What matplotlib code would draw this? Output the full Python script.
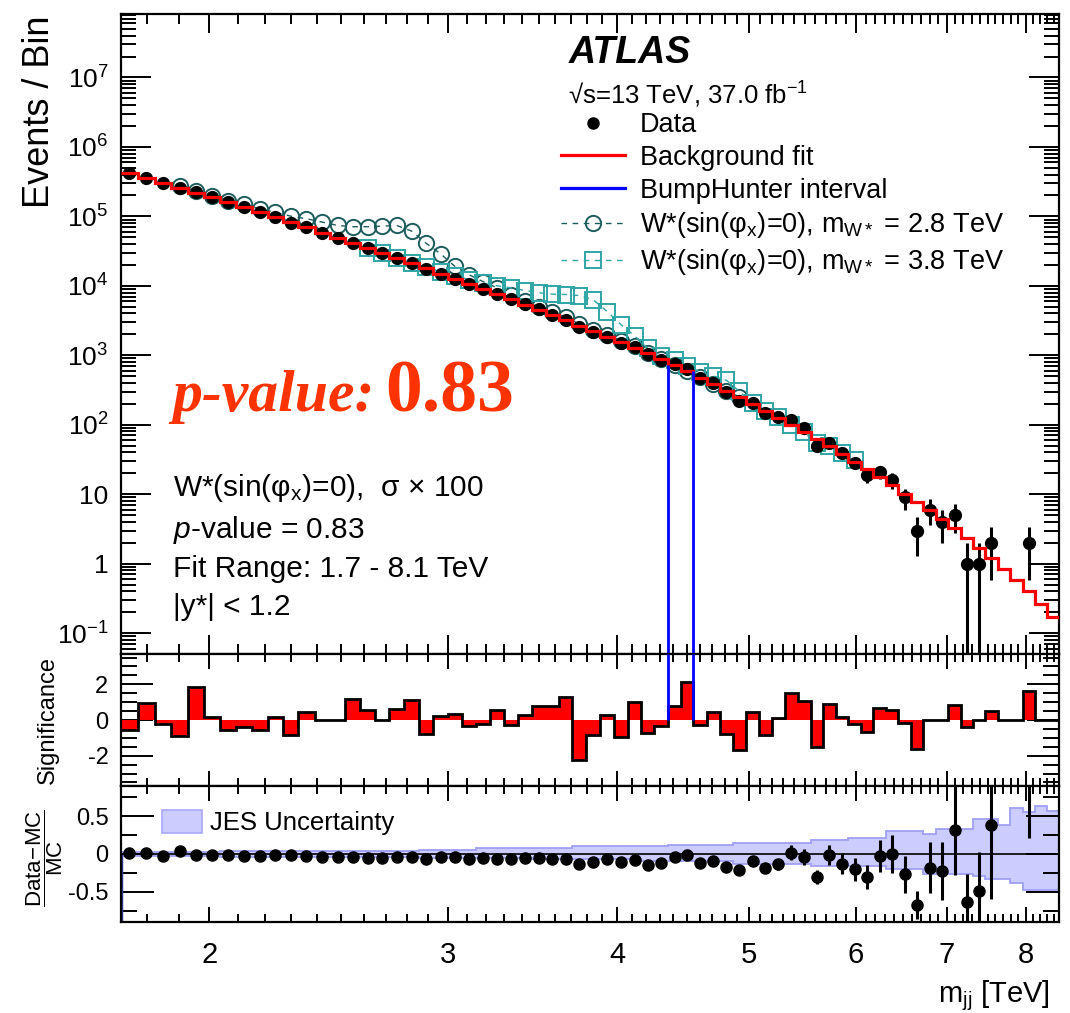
import numpy as np
import matplotlib
matplotlib.use("Agg")
import matplotlib.pyplot as plt
from matplotlib.lines import Line2D
from matplotlib.patches import Patch
from matplotlib.ticker import FixedLocator, FixedFormatter, NullFormatter

plt.rcParams['font.family'] = ['Liberation Sans', 'DejaVu Sans']
plt.rcParams['mathtext.fontset'] = 'custom'
plt.rcParams['mathtext.rm'] = 'Liberation Sans'
plt.rcParams['mathtext.it'] = 'Liberation Sans:italic'
plt.rcParams['mathtext.bf'] = 'Liberation Sans:bold'
plt.rcParams['axes.unicode_minus'] = False

# ---------------- data ----------------
bin_edges = [1.722, 1.772, 1.823, 1.875, 1.929, 1.984, 2.038, 2.093, 2.150, 2.210,
             2.267, 2.327, 2.392, 2.456, 2.519, 2.585, 2.651, 2.715, 2.786, 2.857,
             2.927, 3.000, 3.071, 3.147, 3.223, 3.302, 3.381, 3.463, 3.542, 3.623,
             3.706, 3.792, 3.885, 3.980, 4.072, 4.165, 4.260, 4.358, 4.458, 4.551,
             4.656, 4.763, 4.866, 4.977, 5.088, 5.199, 5.318, 5.434, 5.555, 5.669,
             5.796, 5.921, 6.051, 6.178, 6.313, 6.446, 6.587, 6.726, 6.869, 7.017,
             7.167, 7.322, 7.469, 7.631, 7.792, 7.962, 8.131, 8.298, 8.468]

background_fit = [421700, 358900, 305500, 259400, 220300, 187100, 158900, 134600, 114000, 96600,
                  81800, 69180, 58480, 49430, 41780, 35240, 29720, 25060, 21130, 17780,
                  15000, 12680, 10700, 9028, 7603, 6397, 5377, 4513, 3784, 3170,
                  2652, 2216, 1849, 1542, 1284, 1063, 876, 719, 587, 477,
                  386, 310, 248, 199, 159, 127, 100.5, 79.3, 62.2, 48.6,
                  38.0, 29.5, 22.8, 17.5, 13.4, 10.2, 7.76, 5.86, 4.39, 3.25,
                  2.33, 1.66, 1.20, 0.84, 0.59, 0.40, 0.26, 0.17]

data_counts = [421350, 359460, 305370, 258950, 221160, 187180, 158680, 134450, 113820, 96650,
               81560, 69290, 58480, 49430, 42020, 35350, 29720, 25160, 21300, 17680,
               15020, 12720, 10670, 9007, 7652, 6375, 5397, 4567, 3831, 3241,
               2537, 2176, 1861, 1504, 1319, 1039, 867, 739, 639, 471,
               394, 296, 222, 206, 148, 128, 116, 89, 50, 55,
               39, 28, 19, 21, 16, 9, 3, 6, 4, 5,
               1, 1, 2, 0, 0, 2, 0, 0]

significance = [-0.54, 0.93, -0.24, -0.88, 1.83, 0.19, -0.56, -0.41, -0.54, 0.15,
                -0.84, 0.43, 0.0, 0.0, 1.17, 0.56, 0.0, 0.61, 1.14, -0.78,
                0.20, 0.34, -0.32, -0.22, 0.56, -0.28, 0.28, 0.80, 0.76, 1.27,
                -2.23, -0.84, 0.28, -0.97, 0.99, -0.73, -0.32, 0.76, 2.14, -0.28,
                0.43, -0.78, -1.68, 0.47, -0.84, 0.11, 1.51, 1.08, -1.53, 0.89,
                0.19, -0.22, -0.69, 0.67, 0.58, -0.17, -1.62, 0.0, 0.0, 0.84,
                -0.41, 0.0, 0.48, 0.0, 0.0, 1.62, 0.0, 0.0]

ratio_values = [0.009, 0.009, -0.026, 0.04, -0.013, -0.013, -0.013, -0.022, -0.022, -0.013,
                -0.013, -0.026, -0.035, -0.035, -0.035, -0.048, -0.048, -0.044, -0.035, -0.066,
                -0.035, -0.035, -0.07, -0.057, -0.07, -0.07, -0.057, -0.057, -0.07, -0.062,
                -0.137, -0.10, -0.07, -0.106, -0.084, -0.145, -0.123, -0.04, -0.018, -0.123,
                -0.092, -0.167, -0.21, -0.092, -0.19, -0.137, 0.018, -0.04, -0.304, -0.018,
                -0.128, -0.20, -0.304, -0.026, -0.004, -0.27, -0.68, -0.18, -0.225, 0.317,
                -0.634, -0.49, 0.38, np.nan, np.nan, 3.15, np.nan, np.nan]

jes_up = [0.03] * 6 + [0.035] * 7 + [0.04] * 6 + [0.053] * 4 + [0.082] * 7 + [0.105] * 7 + \
         [0.12] * 5 + [0.15] * 6 + [0.185] * 3 + [0.215] * 3 + [0.30] * 3 + [0.26] + \
         [0.335] * 3 + [0.46] * 2 + [0.39, 0.61, 0.55, 0.63, 0.57]
jes_down = [-0.03] * 6 + [-0.035] * 13 + [-0.05] * 8 + [-0.07] * 8 + [-0.09] * 7 + \
           [-0.137] * 6 + [-0.16] * 6 + [-0.20] * 3 + [-0.27] * 4 + [-0.29] + \
           [-0.33] * 2 + [-0.38] + [-0.47] * 3

wstar28_first_bin = 3
wstar28 = [271600, 230100, 195000, 169000, 148300, 128500, 114800, 100700, 92470, 82600,
           73960, 70960, 70960, 72280, 73960, 61240, 40740, 28840, 19050, 14450,
           11480, 9333, 7413, 6026, 4898, 4169, 3548, 2818, 2291, 1950,
           1622, 1349, 1096, 891, 724, 589, 479, 389, 309, 251]

wstar38_first_bin = 15
wstar38 = [34670, 29510, 25120, 21630, 18410, 16030, 13960, 12300, 10960, 10000,
           9333, 8511, 7943, 7586, 7499, 7244, 6310, 4266, 2754, 1905,
           1259, 977, 851, 708, 575, 501, 437, 302, 204, 158,
           129, 100, 77.6, 53.7, 50.1, 39.8, 30.9]

bumphunter_bins = (37, 39)   # interval = bins [37, 39)

x_major = [2, 3, 4, 5, 6, 7, 8]
x_labels = ["2", "3", "4", "5", "6", "7", "8"]

# ---------------- figure ----------------
W_PX, H_PX = 1070, 1013
fig = plt.figure(figsize=(W_PX / 100, H_PX / 100), dpi=100)
L = 121 / W_PX
Wd = (1059 - 121) / W_PX


def fy(py):
    return 1 - py / H_PX


ax1 = fig.add_axes([L, fy(654), Wd, (654 - 14) / H_PX])
ax2 = fig.add_axes([L, fy(786), Wd, (786 - 654) / H_PX], sharex=ax1)
ax3 = fig.add_axes([L, fy(922), Wd, (922 - 786) / H_PX], sharex=ax1)

edges = np.array(bin_edges)
centers = 0.5 * (edges[:-1] + edges[1:])
fit = np.array(background_fit, float)
data = np.array(data_counts, float)
sig = np.array(significance, float)
ratio = np.array(ratio_values, float)

C28 = '#1d5c5c'
C38 = '#2fa6a6'
RED = '#ff0000'
BLUE = '#0000ff'

# ---- main panel ----
ax1.set_xscale('log')
ax1.set_yscale('log')
ymin, ymax = 0.05, 8.2e7
ax1.set_ylim(ymin, ymax)
ax1.set_xlim(edges[0], edges[-1])

i28 = np.arange(wstar28_first_bin, wstar28_first_bin + len(wstar28))
ax1.plot(centers[i28], wstar28, ls=(0, (4, 4)), lw=1.0, color=C28, marker='o', ms=11,
         mfc='none', mec=C28, mew=1.4, zorder=3)
i38 = np.arange(wstar38_first_bin, wstar38_first_bin + len(wstar38))
ax1.plot(centers[i38], wstar38, ls=(0, (4, 4)), lw=1.0, color=C38, marker='s', ms=11,
         mfc='none', mec=C38, mew=1.4, zorder=3)

has = data > 0
err = np.sqrt(data)
lo = np.maximum(data - err, 1e-3)
hi = data + err
ax1.errorbar(centers[has], data[has], yerr=[data[has] - lo[has], hi[has] - data[has]],
             fmt='o', color='k', ms=8.5, elinewidth=2.2, capsize=0, zorder=4)
ax1.stairs(fit, edges, color=RED, lw=2.3, baseline=None, zorder=5)

b0, b1 = bumphunter_bins
ax1.vlines([edges[b0]], ymin, fit[b0], color=BLUE, lw=2, zorder=6)
ax1.vlines([edges[b1]], ymin, fit[b1 - 1], color=BLUE, lw=2, zorder=6)

# ---- significance panel ----
ax2.set_ylim(-3.7, 3.7)
ax2.stairs(sig, edges, baseline=0, fill=True, color=RED, zorder=2)
ax2.stairs(sig, edges, baseline=None, color='k', lw=2.0, zorder=3)
ax2.vlines([edges[b0], edges[b1]], 0, 3.7, color=BLUE, lw=2, zorder=4)

# ---- ratio panel ----
ax3.set_ylim(-0.9, 0.9)
up = np.array(jes_up)
dn = np.array(jes_down)
ax3.stairs(up, edges, baseline=dn, fill=True, color='#ccccff', zorder=1)
ax3.stairs(up, edges, baseline=None, color='#9f9ff5', lw=1.3, zorder=2)
ax3.stairs(dn, edges, baseline=None, color='#9f9ff5', lw=1.3, zorder=2)
ax3.vlines([edges[0]], -0.9, 0, color='#3a3a9a', lw=2.5, zorder=2)
ax3.axhline(0, color='k', lw=1.2, zorder=3)
ok = np.isfinite(ratio) & has
rerr = (1 + ratio[ok]) / np.sqrt(data[ok])
ax3.errorbar(centers[ok], ratio[ok], yerr=rerr, fmt='o', color='k', ms=8,
             elinewidth=2.2, capsize=0, zorder=4)

# ---------------- ticks ----------------
x_minor = [v / 10 for v in range(18, 85) if v % 10 != 0]
PX = 1 / 1.389  # pixels -> points
for ax, (xmaj, xmin_) in zip([ax1, ax2, ax3], [(19, 10), (15, 8), (15, 8)]):
    ax.xaxis.set_major_locator(FixedLocator(x_major))
    ax.xaxis.set_minor_locator(FixedLocator(x_minor))
    ax.xaxis.set_minor_formatter(NullFormatter())
    ax.tick_params(axis='x', which='major', length=xmaj * PX, width=1.4, direction='in',
                   top=True, bottom=True)
    ax.tick_params(axis='x', which='minor', length=xmin_ * PX, width=1.4, direction='in',
                   top=True, bottom=True)
    for s in ax.spines.values():
        s.set_linewidth(1.6)

ax1.tick_params(axis='x', which='both', labelbottom=False)
ax2.tick_params(axis='x', which='both', labelbottom=False)
ax3.xaxis.set_major_formatter(FixedFormatter(x_labels))
ax3.tick_params(axis='x', which='major', labelsize=21, pad=14)

# main y
dec = list(range(-1, 8))
ax1.yaxis.set_major_locator(FixedLocator([10.0 ** k for k in dec]))
ylabels = []
for k in dec:
    if k == 0:
        ylabels.append('1')
    elif k == 1:
        ylabels.append('10')
    else:
        ylabels.append(r'$\mathregular{10^{%d}}$' % k)
ax1.yaxis.set_major_formatter(FixedFormatter(ylabels))
ax1.yaxis.set_minor_locator(FixedLocator([m * 10.0 ** k for k in range(-2, 8) for m in range(2, 10)]))
ax1.yaxis.set_minor_formatter(NullFormatter())
ax1.tick_params(axis='y', which='major', length=30 * PX, width=1.4, direction='in',
                left=True, right=True, labelsize=19, pad=9)
ax1.tick_params(axis='y', which='minor', length=15 * PX, width=1.4, direction='in',
                left=True, right=True)

# significance y
ax2.yaxis.set_major_locator(FixedLocator([-2, 0, 2]))
ax2.yaxis.set_major_formatter(FixedFormatter(['-2', '0', '2']))
ax2.yaxis.set_minor_locator(FixedLocator([v / 2 for v in range(-7, 8)]))
ax2.tick_params(axis='y', which='major', length=32 * PX, width=1.4, direction='in',
                left=True, right=True, labelsize=17, pad=9)
ax2.tick_params(axis='y', which='minor', length=16 * PX, width=1.4, direction='in',
                left=True, right=True)

# ratio y
ax3.yaxis.set_major_locator(FixedLocator([-0.5, 0, 0.5]))
ax3.yaxis.set_major_formatter(FixedFormatter(['-0.5', '0', '0.5']))
ax3.yaxis.set_minor_locator(FixedLocator([-0.75, -0.25, 0.25, 0.75]))
ax3.tick_params(axis='y', which='major', length=33 * PX, width=1.4, direction='in',
                left=True, right=True, labelsize=17, pad=9)
ax3.tick_params(axis='y', which='minor', length=16 * PX, width=1.4, direction='in',
                left=True, right=True)

# ---------------- labels & text ----------------
fig.text(40 / W_PX, fy(15), 'Events / Bin', rotation=90, ha='center', va='top', fontsize=26)
fig.text(48 / W_PX, fy(720), 'Significance', rotation=90, ha='center', va='center', fontsize=17)
fig.text(45 / W_PX, fy(858), r'$\dfrac{\mathregular{Data\!-\!MC}}{\mathregular{MC}}$', rotation=90,
         ha='center', va='center', fontsize=16)
fig.text(1050 / W_PX, fy(1002), r'm$_{\mathregular{jj}}$ [TeV]', ha='right', va='baseline', fontsize=21)


def axfx(px):
    return (px - 121) / (1059 - 121)


def axfy(py):
    return (654 - py) / (654 - 14)


ax1.text(axfx(569), axfy(63), 'ATLAS', fontsize=27, fontweight='bold', fontstyle='italic',
         transform=ax1.transAxes, va='baseline')
ax1.text(axfx(568), axfy(104), '√s=13 TeV, 37.0 fb$^{\\mathregular{-1}}$', fontsize=18.5,
         transform=ax1.transAxes, va='baseline')

handles = [
    Line2D([], [], marker='o', color='k', ls='none', ms=8),
    Line2D([], [], color=RED, lw=2.3),
    Line2D([], [], color=BLUE, lw=2.3),
    Line2D([], [], ls=(0, (4, 4)), lw=1.0, color=C28, marker='o', ms=11, mfc='none', mew=1.4),
    Line2D([], [], ls=(0, (4, 4)), lw=1.0, color=C38, marker='s', ms=11, mfc='none', mew=1.4),
]
labels = [
    'Data',
    'Background fit',
    'BumpHunter interval',
    r'W*(sin(φ$_{\mathregular{x}}$)=0), m$_{\mathregular{W*}}$ = 2.8 TeV',
    r'W*(sin(φ$_{\mathregular{x}}$)=0), m$_{\mathregular{W*}}$ = 3.8 TeV',
]
ax1.legend(handles, labels, loc='upper left', bbox_to_anchor=(561 / W_PX, fy(112)),
           bbox_transform=fig.transFigure, frameon=False, fontsize=19.5,
           handlelength=2.35, handletextpad=0.55, labelspacing=0.25, borderpad=0,
           borderaxespad=0)

ax1.text(axfx(172), axfy(411), 'p-value:', fontsize=43, fontweight='bold', fontstyle='italic',
         family='Liberation Serif', color='#ff3300', transform=ax1.transAxes, va='baseline')
ax1.text(axfx(385), axfy(411), '0.83', fontsize=53, fontweight='bold',
         family='Liberation Serif', color='#ff3300', transform=ax1.transAxes, va='baseline')

info = [
    (496, r'W*(sin(φ$_{\mathregular{x}}$)=0),  σ × 100'),
    (538, r'$\mathit{p}$-value = 0.83'),
    (577, 'Fit Range: 1.7 - 8.1 TeV'),
    (615, '|y*| < 1.2'),
]
for py, s in info:
    ax1.text(axfx(173), axfy(py), s, fontsize=21.5, transform=ax1.transAxes, va='baseline')

ax3.legend([Patch(facecolor='#ccccff', edgecolor='#a8a8f8', lw=1.2)], ['JES Uncertainty'],
           loc='upper left', bbox_to_anchor=(162 / W_PX, fy(810)), bbox_transform=fig.transFigure,
           frameon=False, fontsize=18.5, handlelength=1.55, handleheight=1.0, handletextpad=0.3,
           borderpad=0, borderaxespad=0)

fig.savefig('out.png', dpi=100)
